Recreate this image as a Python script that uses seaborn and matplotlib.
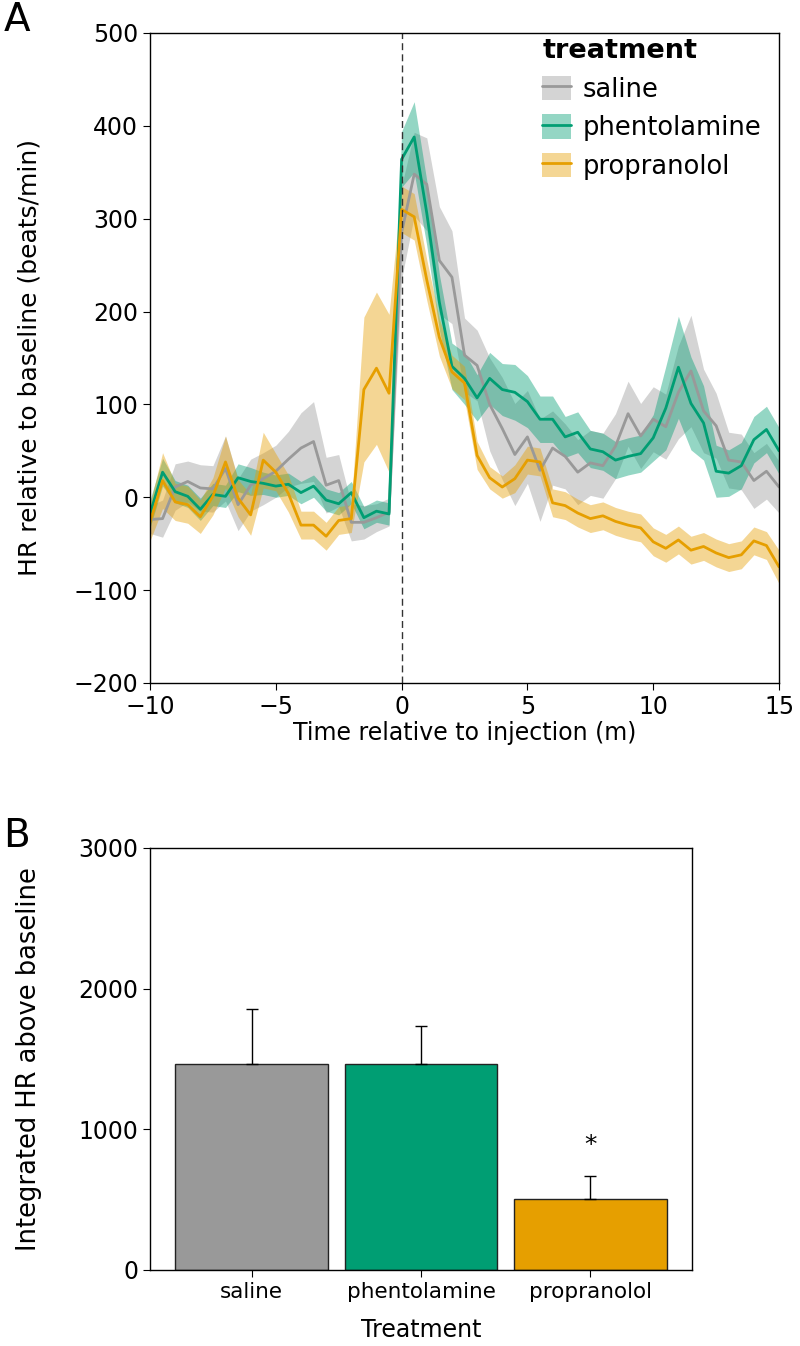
import matplotlib
matplotlib.use("Agg")
import matplotlib.pyplot as plt
import numpy as np
import pandas as pd
import seaborn as sns
from matplotlib.lines import Line2D
from matplotlib.patches import Patch

# time grid (min relative to injection)
time = [-10.0, -9.5, -9.0, -8.5, -8.0, -7.5, -7.0, -6.5, -6.0, -5.5,
        -5.0, -4.5, -4.0, -3.5, -3.0, -2.5, -2.0, -1.5, -1.0, -0.5,
        0.0, 0.5, 1.0, 1.5, 2.0, 2.5, 3.0, 3.5, 4.0, 4.5,
        5.0, 5.5, 6.0, 6.5, 7.0, 7.5, 8.0, 8.5, 9.0, 9.5,
        10.0, 10.5, 11.0, 11.5, 12.0, 12.5, 13.0, 13.5, 14.0, 14.5, 15.0]

saline_mean = [-24, -23, 11, 17, 10, 9, 31, -8, 13, 20, 28, 41, 53, 60, 13, 18, -27, -27, -22, -16,
               285, 348, 337, 255, 237, 153, 142, 100, 74, 46, 65, 29, 53, 44, 27, 37, 34, 55, 90, 66,
               84, 76, 113, 136, 93, 77, 40, 38, 18, 28, 11]
saline_ci = [15, 20, 25, 22, 25, 25, 35, 28, 28, 28, 28, 30, 38, 43, 30, 28, 20, 18, 15, 15,
             50, 45, 50, 58, 50, 40, 38, 50, 55, 55, 50, 55, 40, 35, 35, 35, 35, 35, 35, 35,
             35, 35, 50, 60, 45, 35, 30, 30, 30, 30, 28]

phentolamine_mean = [-18, 27, 6, 1, -13, 3, 1, 21, 17, 15, 12, 14, 5, 12, -3, -7, 5, -22, -15, -18,
                     364, 388, 306, 210, 141, 128, 107, 128, 116, 113, 103, 84, 84, 65, 70, 52, 49, 40, 44, 47,
                     64, 96, 140, 101, 80, 28, 26, 34, 62, 73, 50]
phentolamine_ci = [15, 15, 12, 12, 12, 12, 12, 15, 15, 12, 12, 12, 12, 12, 12, 12, 12, 12, 12, 12,
                   30, 38, 35, 30, 25, 28, 25, 28, 28, 30, 28, 25, 25, 22, 22, 20, 20, 20, 20, 20,
                   25, 45, 55, 50, 40, 28, 25, 25, 25, 25, 25]

propranolol_mean = [-27, 18, -5, -8, -21, 1, 38, -1, -19, 40, 27, 4, -30, -30, -42, -25, -23, 116, 139, 112,
                    310, 302, 234, 172, 135, 123, 45, 21, 11, 20, 40, 38, -6, -9, -17, -23, -20, -26, -30, -33,
                    -48, -55, -46, -57, -53, -60, -65, -62, -47, -52, -75]
propranolol_ci = [20, 30, 20, 20, 18, 20, 28, 20, 22, 30, 20, 20, 15, 15, 15, 15, 15, 78, 82, 85,
                  25, 25, 22, 20, 18, 18, 15, 12, 12, 15, 15, 15, 15, 15, 15, 15, 15, 15, 15, 15,
                  15, 15, 15, 15, 15, 15, 15, 15, 15, 15, 18]

treatments = ["saline", "phentolamine", "propranolol"]
colors = {"saline": "#999999", "phentolamine": "#009E73", "propranolol": "#E69F00"}

# panel B
integrated_hr = [1465, 1462, 502]
integrated_err = [391, 270, 168]
significant = [False, False, True]

TICK_FS = 17

sns.set_style("ticks")
plt.rcParams["font.family"] = ["DejaVu Sans"]
plt.rcParams.update({
    "text.color": "black",
    "axes.labelcolor": "black",
    "xtick.color": "black",
    "ytick.color": "black",
    "xtick.labelsize": TICK_FS,
    "ytick.labelsize": TICK_FS,
    "xtick.major.size": 5,
    "ytick.major.size": 5,
    "axes.edgecolor": "black",
    "axes.linewidth": 1.0,
})

fig = plt.figure(figsize=(8, 13.46), dpi=100)
ax_a = fig.add_axes([0.1875, 0.4926, 0.9738 - 0.1875, 0.9755 - 0.4926])
ax_b = fig.add_axes([0.1875, 0.0565, 0.865 - 0.1875, 0.37 - 0.0565])

series = {
    "saline": (saline_mean, saline_ci),
    "phentolamine": (phentolamine_mean, phentolamine_ci),
    "propranolol": (propranolol_mean, propranolol_ci),
}
rows = []
for name, (mean, ci) in series.items():
    mean = np.asarray(mean, dtype=float)
    ci = np.asarray(ci, dtype=float)
    ax_a.fill_between(time, mean - ci, mean + ci, color=colors[name], alpha=0.42, linewidth=0)
    rows.append(pd.DataFrame({"time": time, "hr": mean, "treatment": name}))
df = pd.concat(rows, ignore_index=True)

sns.lineplot(data=df, x="time", y="hr", hue="treatment", hue_order=treatments,
             palette=colors, errorbar=None, linewidth=2, ax=ax_a, legend=False)
ax_a.axvline(0, color="#333333", linestyle=(0, (5, 3)), linewidth=1)
ax_a.set_xlim(-10, 15)
ax_a.set_ylim(-200, 500)
ax_a.set_xticks([-10, -5, 0, 5, 10, 15])
ax_a.set_yticks(range(-200, 501, 100))
ax_a.set_xlabel("Time relative to injection (m)", fontsize=17)
ax_a.set_ylabel("HR relative to baseline (beats/min)", fontsize=18)
ax_a.xaxis.set_label_coords(0.5, -0.058)
ax_a.yaxis.set_label_coords(-0.172, 0.5)

handles = [(Patch(facecolor=colors[t], alpha=0.42, edgecolor="none"),
            Line2D([], [], color=colors[t], linewidth=2)) for t in treatments]
leg = ax_a.legend(handles, treatments, title="treatment", loc="upper right",
                  bbox_to_anchor=(1.0, 1.02), frameon=False,
                  fontsize=18.5, title_fontsize=19.5, handlelength=1.1, handleheight=1.1,
                  labelspacing=0.45, handletextpad=0.45, borderaxespad=0.3)
leg.get_title().set_fontweight("bold")
leg._legend_box.align = "left"

bar_df = pd.DataFrame({"treatment": treatments, "value": integrated_hr})
sns.barplot(data=bar_df, x="treatment", y="value", hue="treatment", palette=colors,
            order=treatments, width=0.9, errorbar=None, saturation=1, edgecolor="#222222",
            linewidth=1, legend=False, ax=ax_b)
ax_b.errorbar(range(len(treatments)), integrated_hr, yerr=[[0] * len(treatments), integrated_err],
              fmt="none", ecolor="black", elinewidth=1, capsize=4.5, capthick=1)
for i, (v, e, s) in enumerate(zip(integrated_hr, integrated_err, significant)):
    if s:
        ax_b.text(i, v + e + 130, "*", ha="center", va="bottom", fontsize=18)
ax_b.set_xlim(-0.6, 2.6)
ax_b.set_ylim(0, 3000)
ax_b.set_yticks([0, 1000, 2000, 3000])
ax_b.set_xlabel("Treatment", fontsize=17)
ax_b.set_ylabel("Integrated HR above baseline", fontsize=18.5)
ax_b.xaxis.set_label_coords(0.5, -0.115)
ax_b.yaxis.set_label_coords(-0.199, 0.5)
ax_b.tick_params(axis="x", labelsize=15.5)

for ax in (ax_a, ax_b):
    for sp in ax.spines.values():
        sp.set_visible(True)
        sp.set_color("black")

fig.text(0.004, 0.999, "A", fontsize=28, va="top", ha="left")
fig.text(0.004, 0.393, "B", fontsize=28, va="top", ha="left")

fig.savefig("out.png", dpi=100)
plt.close(fig)
